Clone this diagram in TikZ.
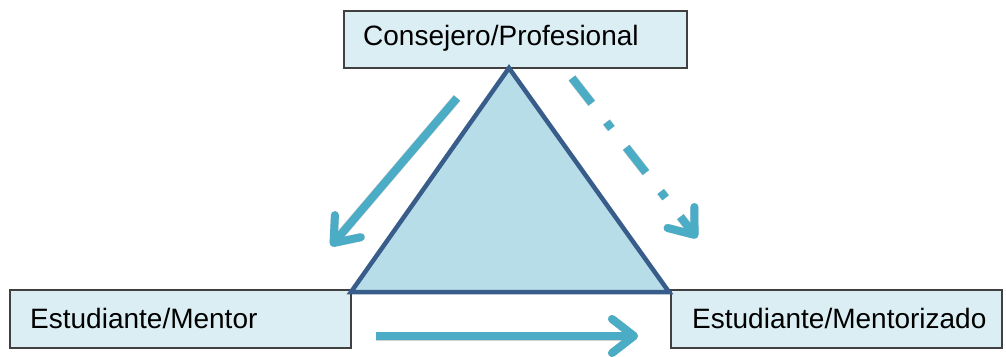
\documentclass[tikz,border=0pt]{standalone}
\usepackage{fontspec}
\setmainfont{Liberation Sans}
\usetikzlibrary{arrows.meta}
\definecolor{boxfill}{HTML}{DAEEF3}
\definecolor{boxline}{HTML}{404040}
\definecolor{trifill}{HTML}{B7DDE8}
\definecolor{triline}{HTML}{385D8A}
\definecolor{arrowc}{HTML}{4BACC6}
\tikzset{
  rolebox/.style={draw=boxline, line width=1.5pt, fill=boxfill, rectangle, inner sep=0pt, anchor=north west},
  roletext/.style={anchor=west, inner sep=0pt, font=\fontsize{28}{32}\selectfont},
  tipbarb/.style={-{Straight Barb[length=22pt,width=34pt,line width=8pt,round]}},
  flow/.style={draw=arrowc, line width=8pt, tipbarb},
  flowshadow/.style={draw=black, opacity=0.18, line width=9pt, tipbarb},
  dashflow/.style={draw=arrowc, line width=8pt, tipbarb, dash pattern=on 32pt off 24pt on 8pt off 24pt},
  dashshadow/.style={draw=black, opacity=0.18, line width=9pt, tipbarb, dash pattern=on 32pt off 24pt on 8pt off 24pt},
}
\begin{document}
\begin{tikzpicture}[x=1pt,y=-1pt]
\useasboundingbox (0,0) rectangle (1006,356);
% boxes
\node[rolebox, minimum width=343pt, minimum height=57pt] (top) at (343,10) {};
\node[rolebox, minimum width=341pt, minimum height=58pt] (left) at (9,289) {};
\node[rolebox, minimum width=331pt, minimum height=58pt] (right) at (670,289) {};
\node[roletext] (toptext) at (363,38) {Consejero/Profesional};
\node[roletext] (lefttext) at (30,318) {Estudiante/Mentor};
\node[roletext] (righttext) at (692,318) {Estudiante/Mentorizado};
% triangle
\coordinate (apex) at (509,68);
\coordinate (bl) at (351,292);
\coordinate (br) at (669,292);
\draw[fill=trifill, draw=triline, line width=4.5pt, line join=miter] (apex) -- (bl) -- (br) -- cycle;
% arrow coordinates
\coordinate (a1s) at (457,98);
\coordinate (a1e) at (331,246);
\coordinate (a2s) at (572,78);
\coordinate (a2e) at (697,238);
\coordinate (a3s) at (376,336);
\coordinate (a3e) at (638,336);
% shadows
\begin{scope}[shift={(2,3)}]
\draw[flowshadow] (a1s) -- (a1e);
\draw[dashshadow] (a2s) -- (a2e);
\draw[flowshadow] (a3s) -- (a3e);
\end{scope}
% arrows
\draw[flow] (a1s) -- (a1e);
\draw[dashflow] (a2s) -- (a2e);
\draw[flow] (a3s) -- (a3e);
\end{tikzpicture}
\end{document}
